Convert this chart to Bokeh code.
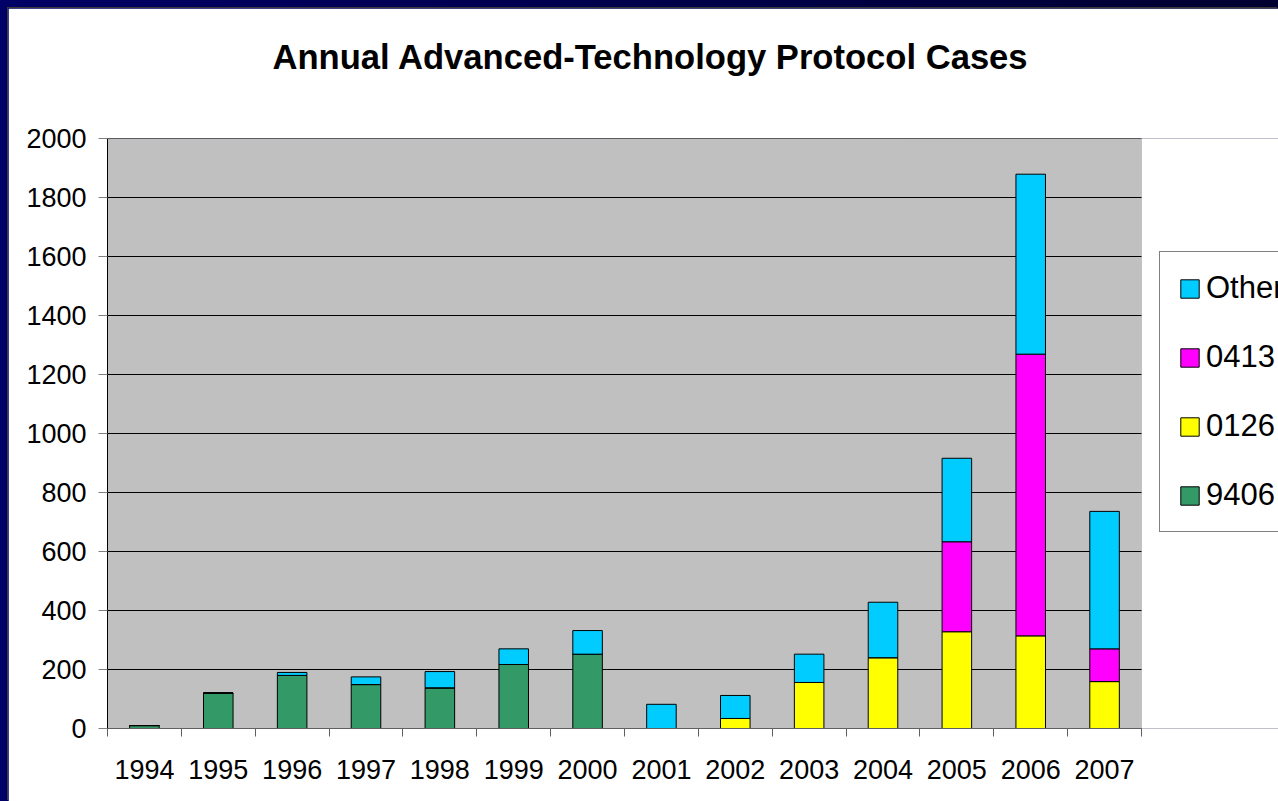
from bokeh.plotting import figure
from bokeh.models import (Range1d, FixedTicker, Legend, LegendItem, BoxAnnotation,
                          ColumnDataSource, GlobalInlineStyleSheet)
from bokeh.embed import file_html
from bokeh.resources import INLINE

# ---- data ----
years = ["1994", "1995", "1996", "1997", "1998", "1999", "2000",
         "2001", "2002", "2003", "2004", "2005", "2006", "2007"]
s9406 = [10, 120, 180, 149, 138, 217, 252, 0, 0, 0, 0, 0, 0, 0]
s0126 = [0, 0, 0, 0, 0, 0, 0, 0, 34, 156, 240, 328, 314, 159]
s0413 = [0, 0, 0, 0, 0, 0, 0, 0, 0, 0, 0, 305, 955, 111]
other = [0, 0, 10, 26, 55, 53, 80, 82, 78, 96, 188, 283, 610, 466]
series = ["9406", "0126", "0413", "Other"]
colors = ["#339966", "#FFFF00", "#FF00FF", "#00CCFF"]
y_ticks = [0, 200, 400, 600, 800, 1000, 1200, 1400, 1600, 1800, 2000]
title_text = "Annual Advanced-Technology Protocol Cases"

FONT = "Liberation Sans"
W, H = 1270, 793
LEFT, BOTTOM, TOP = 99, 73, 130
PLOT_W = 1034          # pixel width of the grey plotting area
n = len(years)

xs = [i + 0.5 for i in range(n)]
source = ColumnDataSource(data={"x": xs, "9406": s9406, "0126": s0126,
                                "0413": s0413, "Other": other})

# the frame reaches the right edge so that the (cut-off) legend is not clipped;
# the grey plot area is drawn over the category range only
x_end = n * (W - LEFT) / PLOT_W
p = figure(width=W, height=H,
           x_range=Range1d(0, x_end), y_range=Range1d(0, 2000),
           output_backend="svg", toolbar_location=None,
           min_border_left=LEFT, min_border_right=0,
           min_border_top=TOP, min_border_bottom=BOTTOM)

# dark slide frame on the top/left edges of the page
p.stylesheets = [GlobalInlineStyleSheet(
    css="html, body { background: linear-gradient(to right, #000066, #000030); "
        "overflow: hidden; }")]
p.styles = {"margin-left": "8px", "margin-top": "8px",
            "box-shadow": "-1px -1px 0 0 #3a3a3a"}

p.background_fill_color = "white"
p.border_fill_color = "white"
p.outline_line_color = None

p.add_layout(BoxAnnotation(left=0, right=n, fill_color="#C0C0C0", fill_alpha=1.0,
                           line_color="#808080", line_width=1, level="underlay"))

# horizontal grid lines over the plot area only
p.segment(x0=[0] * len(y_ticks), x1=[n] * len(y_ticks), y0=y_ticks, y1=y_ticks,
          line_color="black", line_width=1)

rs = p.vbar_stack(series, x="x", width=0.4, source=source,
                  fill_color=colors, line_color="black", line_width=1)

# title (an empty second line lifts it higher above the plot area)
p.title.text = title_text + "\n"
p.title.text_font = FONT
p.title.text_font_size = "34.6px"
p.title.text_font_style = "bold"
p.title.text_color = "black"
p.title.align = "left"
p.title.offset = 165
p.title.vertical_align = "bottom"
p.title.standoff = 50

# x axis: labels at centres, tick marks at category boundaries
xa = p.xaxis[0]
xa.bounds = (0, n)
xa.ticker = FixedTicker(ticks=xs, minor_ticks=list(range(n + 1)))
xa.major_label_overrides = {x: y for x, y in zip(xs, years)}
xa.major_tick_in = 0
xa.major_tick_out = 0
xa.minor_tick_in = 0
xa.minor_tick_out = 8
xa.minor_tick_line_color = "#606060"
xa.axis_line_color = "#606060"
xa.major_label_standoff = 23
xa.major_label_text_font = FONT
xa.major_label_text_font_size = "27px"
xa.major_label_text_color = "black"

ya = p.yaxis[0]
ya.ticker = FixedTicker(ticks=y_ticks)
ya.major_tick_in = 0
ya.major_tick_out = 9
ya.minor_tick_line_color = None
ya.major_tick_line_color = "#808080"
ya.axis_line_color = "black"
ya.major_label_standoff = 12
ya.major_label_text_font = FONT
ya.major_label_text_font_size = "27px"
ya.major_label_text_color = "black"

p.xgrid.grid_line_color = None
p.ygrid.grid_line_color = None

items = [LegendItem(label=name, renderers=[r]) for name, r in zip(series, rs)]
legend = Legend(items=list(reversed(items)), location=(1052, 196),
                orientation="vertical",
                label_text_font=FONT, label_text_font_size="31px",
                label_text_color="black",
                glyph_width=23, glyph_height=23, label_standoff=5,
                spacing=33, padding=18, margin=0,
                border_line_color="black", border_line_width=1,
                background_fill_color="white", background_fill_alpha=1.0)
p.add_layout(legend)

open("out.html", "w").write(file_html(p, INLINE))
